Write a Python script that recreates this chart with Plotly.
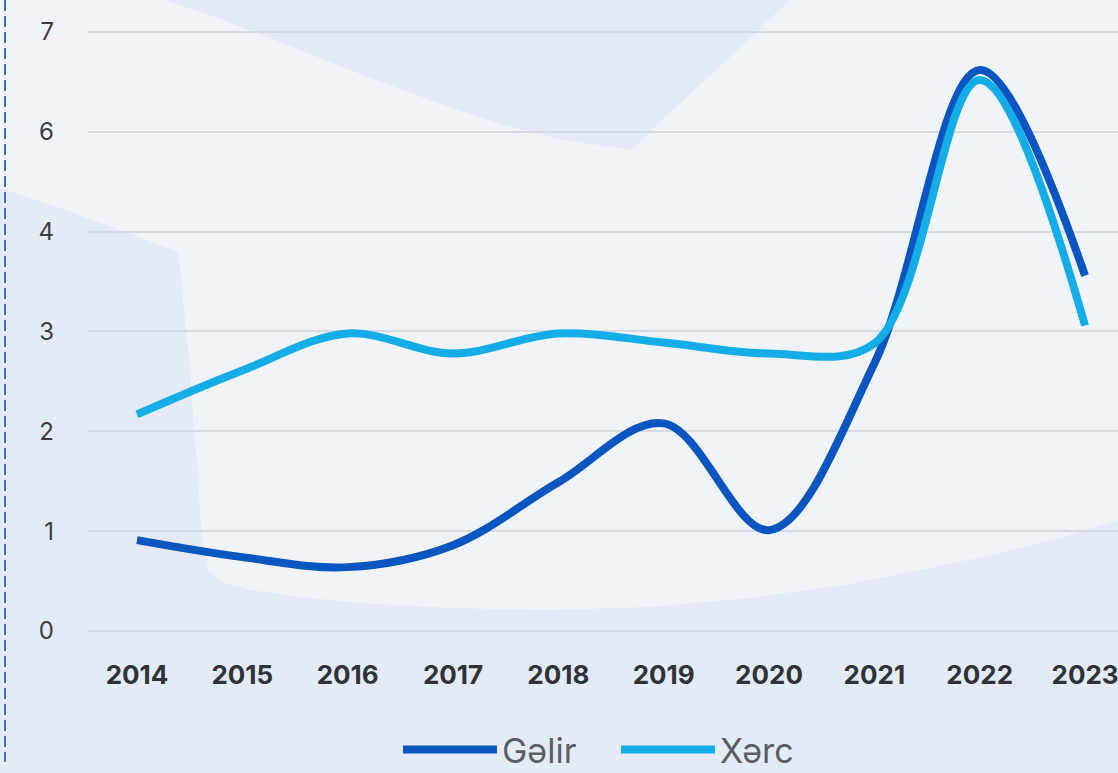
import plotly.graph_objects as go

years = [2014, 2015, 2016, 2017, 2018, 2019, 2020, 2021, 2022, 2023]
gelir = [0.91, 0.74, 0.64, 0.86, 1.49, 2.08, 1.01, 2.68, 5.62, 3.56]
xerc = [2.17, 2.61, 2.98, 2.78, 2.98, 2.89, 2.78, 2.88, 5.52, 3.06]
ytick_pos = [0, 1, 2, 3, 4, 5, 6]
ytick_text = ["0", "1", "2", "3", "4", "6", "7"]

W, H = 1118, 773
ML, MR, MT, MB = 88, 0, 10, 128
PW, PH = W - ML - MR, H - MT - MB


def px(x, y):
    return (x - ML) / PW, (H - MB - y) / PH


def path(points):
    s = ""
    for i, (x, y) in enumerate(points):
        a, b = px(x, y)
        s += ("M" if i == 0 else "L") + f"{a:.4f},{b:.4f} "
    return s + "Z"


light_region = [
    (0, -5), (165, -5), (165, 0), (215, 17), (262, 35), (320, 58), (373, 79), (430, 100),
    (500, 124), (560, 139), (610, 147), (632, 150), (660, 122), (700, 85),
    (745, 43), (790, 0), (790, -5), (1125, -5), (1125, 518), (1060, 538), (1000, 553),
    (930, 568), (850, 584), (750, 598), (650, 607), (550, 610), (450, 608),
    (360, 603), (300, 597), (250, 590), (222, 582), (208, 570), (202, 540),
    (196, 450), (188, 350), (178, 252), (120, 230), (60, 208), (0, 188),
]

fig = go.Figure()
fig.add_trace(go.Scatter(
    x=years, y=gelir, name="Gəlir", mode="lines",
    line=dict(color="#0a56c0", width=8, shape="spline", smoothing=1.0),
))
fig.add_trace(go.Scatter(
    x=years, y=xerc, name="Xərc", mode="lines",
    line=dict(color="#14ade8", width=8, shape="spline", smoothing=1.0),
))

shapes = [
    dict(type="path", xref="paper", yref="paper", path=path(light_region),
         fillcolor="#f0f4f9", line=dict(width=0), layer="below"),
]
x0, _ = px(5, 0)
_, ya = px(0, 0)
_, yb = px(0, 762)
shapes.append(dict(type="line", xref="paper", yref="paper", x0=x0, x1=x0, y0=ya, y1=yb,
                   line=dict(color="#3d6fc4", width=2, dash="11px,5px"), layer="above"))

fig.update_layout(
    width=W, height=H,
    margin=dict(l=ML, r=MR, t=MT, b=MB, autoexpand=False),
    paper_bgcolor="#e4ebf6",
    plot_bgcolor="rgba(0,0,0,0)",
    shapes=shapes,
    showlegend=True,
    legend=dict(
        orientation="h", x=(616 - ML) / PW, xanchor="center", xref="paper",
        y=(H - 750) / H, yanchor="middle", yref="container",
        font=dict(family="Inter", size=34, color="#5a5f66"),
        itemwidth=94, entrywidth=109, entrywidthmode="pixels",
        bgcolor="rgba(0,0,0,0)",
    ),
    xaxis=dict(
        range=[2013.535, 2023.313], tickvals=years, ticktext=[str(y) for y in years],
        showgrid=False, zeroline=False, showline=False,
        tickfont=dict(family="Inter", size=26, color="#2f3338", weight="bold"),
        ticklabelstandoff=12, ticklabeloverflow="allow", automargin=False,
    ),
    yaxis=dict(
        range=[-0.14, 6.22], tickvals=ytick_pos, ticktext=ytick_text,
        showgrid=True, gridcolor="#d6dbe3", gridwidth=1.5, zeroline=False, showline=False,
        tickfont=dict(family="Inter", size=24, color="#3a3d42"),
        ticklabelstandoff=33, automargin=False,
    ),
)

fig.write_html(
    "out.html",
    config={"displayModeBar": False},
    post_script="document.body.style.margin='0';document.body.style.overflow='hidden';",
)
